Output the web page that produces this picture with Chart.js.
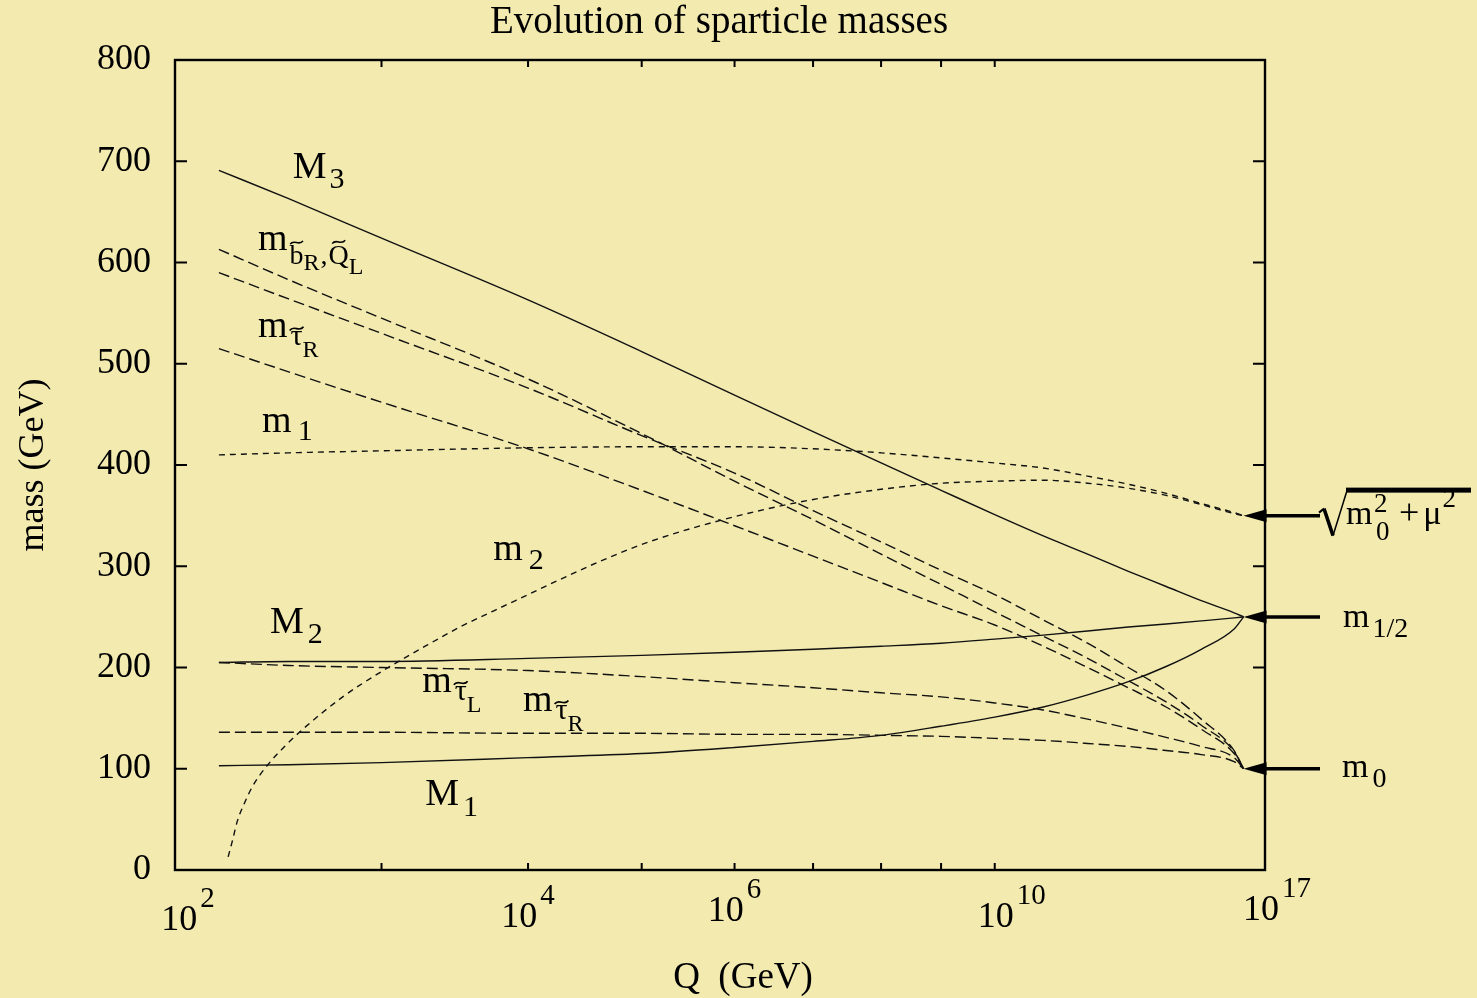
<!DOCTYPE html>
<html>
<head>
<meta charset="utf-8">
<title>Evolution of sparticle masses</title>
<script src="https://cdn.jsdelivr.net/npm/chart.js@4.4.1/dist/chart.umd.min.js"></script>
<style>
  html, body { margin: 0; padding: 0; background: #f3eab0; }
  #wrap { width: 1477px; height: 998px; }
</style>
</head>
<body>
<div id="wrap"><canvas id="c" width="1477" height="998"></canvas></div>
<script>
// Running masses versus scale; x values are log10(Q / GeV).
const logQ = [2.18, 2.5, 3, 4, 5, 6, 7, 8, 9, 10, 11, 12, 13, 14, 15, 16, 16.3];

// gaugino masses
const gluinoM3 = [691, 663, 624, 563, 512, 469, 433, 402, 375, 351, 330, 312, 295, 280, 266, 254, 250];
const winoM2   = [205, 206, 206, 209, 212, 215, 218, 221, 224, 228, 232, 236, 240, 243, 246, 249, 250];
const binoM1   = [103, 104, 106, 111, 115, 121, 127, 133, 142, 151, 161, 173, 186, 201, 218, 238, 250];

// squarks and sleptons
const sbottomR = [613, 583, 545, 485, 431, 384, 346, 312, 282, 255, 231, 209, 187, 166, 143, 117, 100];
const squarkQL = [590, 564, 530, 476, 429, 392, 355, 324, 296, 272, 247, 224, 200, 177, 149, 118, 100];
const stopR    = [515, 492, 462, 416, 375, 340, 310, 284, 261, 242, 221, 200, 180, 161, 139, 115, 100];
const stauL    = [205, 202, 200, 197, 191, 185, 180, 175, 171, 165, 158, 149, 140, 131, 122, 111, 100];
const stauR    = [136, 136, 136, 135, 135, 134, 134, 133, 132, 130, 128, 125, 122, 118, 114, 107, 100];

// Higgs mass parameters
const higgsM1 = [410, 412, 414, 417, 418, 418, 416, 412, 407, 402, 397, 389, 381, 372, 362, 353, 350];
const higgsM2LogQ = [2.22, 2.24, 2.26, 2.29, 2.33, 2.4, 2.49, 2.57, 2.78, 3.01, 3.28, 3.5, 3.74, 4, 4.26,
                     4.61, 5.07, 5.91, 6.93, 8, 9, 10, 11, 12, 13, 14, 15, 16, 16.3];
const higgsM2 = [13, 30, 48, 65, 83, 104, 124, 139, 171, 197, 222, 240, 256, 272, 287,
                 305, 324, 347, 365, 376, 382, 384, 385, 382, 377, 370, 361, 352, 350];

// boundary values at the unification scale
const gutValues = [350, 250, 100];

// axis ticks
const xTickLogQ = [2, 3, 4, 5, 6, 7, 8, 9, 10, 17];
const xLabelLogQ = [2, 4, 6, 10, 17];
const yTickValues = [0, 100, 200, 300, 400, 500, 600, 700, 800];

const SERIF = "'Liberation Serif', 'Times New Roman', serif";
const PAPER = '#f3eab0';
const INK = '#111';
const fontPx = s => `${s}px ${SERIF}`;

Chart.defaults.font.family = SERIF;
Chart.defaults.color = '#000';

const pts = (xs, ys) => xs.map((x, i) => ({ x, y: ys[i] }));
const SOLID = [], LONG = [11, 5], SHORT = [6, 5];

function curve(label, xs, ys, dash) {
  return {
    label, data: pts(xs, ys), borderDash: dash,
    borderColor: INK, borderWidth: 1.4, pointRadius: 0,
    fill: false, cubicInterpolationMode: 'monotone'
  };
}

// curve labels: anchor in (log10 Q, mass) plus rich-text pieces
// [text, size, dy, gap, tildeLift]
const curveLabels = [
  { at: [2.52, 683], parts: [['M', 38, 0], ['3', 30, 10, 3]] },
  { at: [2.354, 612], parts: [['m', 38, 0], ['b', 28, 14, 2, 0.78], ['R', 24, 20, 0], [',', 28, 14, 1], ['Q', 28, 14, 1, 0.8], ['L', 24, 24, 0]] },
  { at: [2.354, 526], parts: [['m', 38, 0], ['\u03c4', 30, 8, 3, 0.56], ['R', 24, 20, 0]] },
  { at: [2.373, 433], parts: [['m', 38, 0], ['1', 30, 8, 6]] },
  { at: [3.736, 306], parts: [['m', 38, 0], ['2', 30, 9, 6]] },
  { at: [2.41, 234], parts: [['M', 38, 0], ['2', 30, 10, 4]] },
  { at: [3.249, 176], parts: [['m', 38, 0], ['\u03c4', 30, 8, 3, 0.56], ['L', 24, 20, 0]] },
  { at: [3.96, 157], parts: [['m', 38, 0], ['\u03c4', 30, 8, 3, 0.56], ['R', 24, 20, 0]] },
  { at: [3.269, 64], parts: [['M', 38, 0], ['1', 30, 11, 4]] }
];

function tilde(ctx, cx, yb, size) {
  const w = size * 0.46, amp = size * 0.06;
  const x0 = cx - w / 2;
  ctx.save();
  ctx.lineWidth = Math.max(1.3, size * 0.055);
  ctx.beginPath();
  ctx.moveTo(x0, yb + amp);
  ctx.bezierCurveTo(x0 + w * 0.3, yb - amp * 2.4, x0 + w * 0.7, yb + amp * 2.4, x0 + w, yb - amp);
  ctx.stroke();
  ctx.restore();
}

function drawParts(ctx, x, y, parts) {
  let cx = x;
  ctx.textAlign = 'left';
  ctx.textBaseline = 'alphabetic';
  for (const [txt, size, dy, gap, lift] of parts) {
    ctx.font = fontPx(size);
    cx += gap || 0;
    ctx.fillText(txt, cx, y + dy);
    const w = ctx.measureText(txt).width;
    if (lift) tilde(ctx, cx + w / 2, y + dy - size * lift, size);
    cx += w;
  }
  return cx;
}

function arrow(ctx, tipX, tipY, tailX) {
  ctx.lineWidth = 3.5;
  ctx.beginPath();
  ctx.moveTo(tipX + 18, tipY);
  ctx.lineTo(tailX, tipY);
  ctx.stroke();
  ctx.beginPath();
  ctx.moveTo(tipX, tipY);
  ctx.lineTo(tipX + 23, tipY - 6.5);
  ctx.lineTo(tipX + 23, tipY + 6.5);
  ctx.closePath();
  ctx.fill();
}

const decorations = {
  id: 'decorations',
  beforeDraw(chart) {
    const { ctx, width, height } = chart;
    ctx.save();
    ctx.fillStyle = PAPER;
    ctx.fillRect(0, 0, width, height);
    ctx.restore();
  },
  afterDraw(chart) {
    const { ctx, chartArea: a, scales: { x, y } } = chart;
    ctx.save();
    ctx.strokeStyle = '#000';
    ctx.fillStyle = '#000';

    // frame
    ctx.lineWidth = 2.4;
    ctx.strokeRect(a.left, a.top, a.right - a.left, a.bottom - a.top);

    // inward tick marks on all four sides
    ctx.lineWidth = 2;
    ctx.beginPath();
    yTickValues.forEach(v => {
      const py = y.getPixelForValue(v);
      ctx.moveTo(a.left, py); ctx.lineTo(a.left + 12, py);
      ctx.moveTo(a.right, py); ctx.lineTo(a.right - 12, py);
    });
    xTickLogQ.forEach(t => {
      const px = x.getPixelForValue(t);
      ctx.moveTo(px, a.bottom); ctx.lineTo(px, a.bottom - 7);
      ctx.moveTo(px, a.top); ctx.lineTo(px, a.top + 7);
    });
    ctx.stroke();

    // x tick labels as powers of ten
    const nudgeX = [13, 0, 0, 17, 12];
    const nudgeY = [4, 1, -5, 1, -6];
    xLabelLogQ.forEach((t, i) => {
      const px = x.getPixelForValue(t);
      ctx.font = fontPx(36);
      const wb = ctx.measureText('10').width;
      ctx.font = fontPx(29);
      const we = ctx.measureText(String(t)).width;
      const left = px - (wb + 3 + we) / 2 + nudgeX[i];
      const base = a.bottom + 56 + nudgeY[i];
      drawParts(ctx, left, base, [['10', 36, 0], [String(t), 29, -23, 3]]);
    });

    // axis title and chart title
    ctx.textAlign = 'center';
    ctx.textBaseline = 'alphabetic';
    ctx.font = fontPx(37);
    ctx.fillText('Q  (GeV)', (a.left + a.right) / 2 + 23, a.bottom + 118);
    ctx.font = fontPx(39);
    ctx.fillText('Evolution of sparticle masses', (a.left + a.right) / 2 - 1, 33);

    // curve labels
    curveLabels.forEach(l => {
      drawParts(ctx, x.getPixelForValue(l.at[0]), y.getPixelForValue(l.at[1]), l.parts);
    });

    // arrows marking the unification-scale boundary values
    const tipX = x.getPixelForValue(logQ[logQ.length - 1]);
    const tailX = a.right + 55;
    gutValues.forEach(v => arrow(ctx, tipX, y.getPixelForValue(v), tailX));

    // sqrt(m0^2 + mu^2)
    const ys = y.getPixelForValue(gutValues[0]);
    const sx = a.right + 54;
    ctx.lineWidth = 2;
    ctx.beginPath();
    ctx.moveTo(sx, ys - 3);
    ctx.lineTo(sx + 5, ys - 7);
    ctx.stroke();
    ctx.lineWidth = 3.5;
    ctx.beginPath();
    ctx.moveTo(sx + 5, ys - 7);
    ctx.lineTo(sx + 14, ys + 20);
    ctx.stroke();
    ctx.lineWidth = 1.6;
    ctx.beginPath();
    ctx.moveTo(sx + 14, ys + 20);
    ctx.lineTo(sx + 28, ys - 25);
    ctx.stroke();
    ctx.fillRect(sx + 27, ys - 28, 1471 - (sx + 27), 5);
    drawParts(ctx, sx + 27, ys + 8, [['m', 34, 0]]);
    ctx.font = fontPx(27);
    ctx.textAlign = 'left';
    ctx.fillText('2', sx + 55, ys - 4);
    ctx.fillText('0', sx + 57, ys + 24);
    drawParts(ctx, sx + 80, ys + 8, [['+', 36, 0], ['\u03bc', 34, 0, 4], ['2', 27, -17, 1]]);

    // m_1/2 and m_0
    const yh = y.getPixelForValue(gutValues[1]);
    drawParts(ctx, a.right + 78, yh + 10, [['m', 34, 0], ['1/2', 28, 10, 3]]);
    const y0 = y.getPixelForValue(gutValues[2]);
    drawParts(ctx, a.right + 77, y0 + 8, [['m', 34, 0], ['0', 28, 10, 4]]);

    ctx.restore();
  }
};

new Chart(document.getElementById('c'), {
  type: 'line',
  data: {
    datasets: [
      curve('M3', logQ, gluinoM3, SOLID),
      curve('M2', logQ, winoM2, SOLID),
      curve('M1', logQ, binoM1, SOLID),
      curve('b~R', logQ, sbottomR, LONG),
      curve('Q~L', logQ, squarkQL, LONG),
      curve('t~R', logQ, stopR, LONG),
      curve('tau~L', logQ, stauL, LONG),
      curve('tau~R', logQ, stauR, LONG),
      curve('m1', logQ, higgsM1, SHORT),
      curve('m2', higgsM2LogQ, higgsM2, SHORT)
    ]
  },
  options: {
    responsive: false,
    animation: false,
    devicePixelRatio: 1,
    layout: { padding: { left: 0, top: 60, right: 212, bottom: 128 } },
    plugins: {
      legend: { display: false },
      tooltip: { enabled: false },
      title: { display: false }
    },
    scales: {
      x: {
        type: 'logarithmic', min: 2, max: 17,
        grid: { display: false, drawTicks: false },
        border: { display: false },
        ticks: { display: false },
        afterFit(s) { s.height = 0; }
      },
      y: {
        type: 'linear', min: 0, max: 800,
        grid: { display: false, drawTicks: false },
        border: { display: false },
        ticks: { stepSize: 100, padding: 24, color: '#000', font: { size: 36 } },
        title: {
          display: true, text: 'mass (GeV)', color: '#000',
          font: { size: 36 }, padding: { top: 12, bottom: 0 }
        },
        afterFit(s) { s.width = 175; }
      }
    }
  },
  plugins: [decorations]
});
</script>
</body>
</html>
